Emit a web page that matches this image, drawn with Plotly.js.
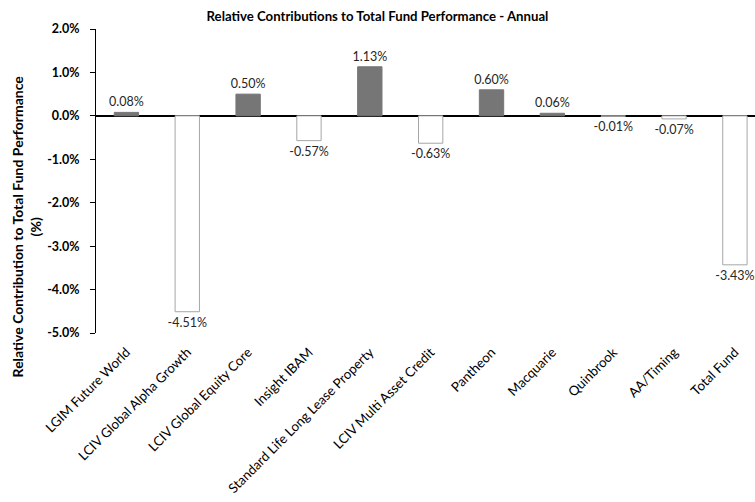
<!DOCTYPE html>
<html>
<head>
<meta charset="utf-8">
<script src="https://cdn.plot.ly/plotly-3.0.1.min.js"></script>
<style>
  html, body { margin: 0; padding: 0; background: #fff; overflow: hidden; }
  #chart { width: 755px; height: 502px; }
</style>
</head>
<body>
<div id="chart"></div>
<script>
// Relative contributions to total fund performance - annual (%)
const managers = [
    "LGIM Future World",
    "LCIV Global Alpha Growth",
    "LCIV Global Equity Core",
    "Insight IBAM",
    "Standard Life Long Lease Property",
    "LCIV Multi Asset Credit",
    "Pantheon",
    "Macquarie",
    "Quinbrook",
    "AA/Timing",
    "Total Fund"
];
const contributions = [0.08, -4.51, 0.50, -0.57, 1.13, -0.63, 0.60, 0.06, -0.01, -0.07, -3.43];
const yTicks = [2, 1, 0, -1, -2, -3, -4, -5];

const font = "Lato, 'Open Sans', sans-serif";
const posFill = "#767676";
const negLine = "#a6a6a6";

const trace = {
    type: "bar",
    x: managers,
    y: contributions,
    width: 0.4,
    marker: {
        color: contributions.map(v => v >= 0 ? posFill : "#ffffff"),
        line: {
            color: contributions.map(v => v >= 0 ? posFill : negLine),
            width: 1
        }
    },
    texttemplate: "%{y:.2f}%",
    textposition: "outside",
    constraintext: "none",
    textfont: { family: font, size: 12.5, color: "#262626" },
    cliponaxis: false,
    hoverinfo: "skip"
};

const layout = {
    width: 755,
    height: 502,
    margin: { t: 29, l: 96, r: 0, b: 169 },
    paper_bgcolor: "#fff",
    plot_bgcolor: "#fff",
    showlegend: false,
    title: {
        text: "<b>Relative Contributions to Total Fund Performance - Annual</b>",
        font: { family: font, size: 13.2, color: "#000" },
        x: 0.5,
        xanchor: "center",
        y: 0.967,
        yanchor: "middle"
    },
    xaxis: {
        type: "category",
        range: [-0.5, 10.33],
        tickangle: -45,
        showline: false,
        showgrid: false,
        zeroline: false,
        ticks: "",
        ticklabelstandoff: 8,
        tickfont: { family: font, size: 13.3, color: "#000" }
    },
    yaxis: {
        range: [-5, 2],
        tickvals: yTicks,
        ticktext: yTicks.map(v => v.toFixed(1) + "%"),
        showgrid: false,
        showline: true,
        linecolor: "#000",
        linewidth: 1,
        ticks: "outside",
        ticklen: 5,
        tickcolor: "#000",
        ticklabelstandoff: 8,
        zeroline: true,
        zerolinecolor: "#000",
        zerolinewidth: 2,
        tickfont: { family: font, size: 12.5, color: "#000", weight: "bold" }
    },
    annotations: [{
        text: "<b>Relative Contribution to Total Fund Performance</b><br><b>(%)</b>",
        xref: "paper",
        yref: "paper",
        x: -0.105,
        y: 0.35,
        xanchor: "center",
        yanchor: "middle",
        textangle: -90,
        showarrow: false,
        font: { family: font, size: 14, color: "#000" }
    }]
};

Plotly.newPlot("chart", [trace], layout, { displayModeBar: false, staticPlot: true });
</script>
</body>
</html>
